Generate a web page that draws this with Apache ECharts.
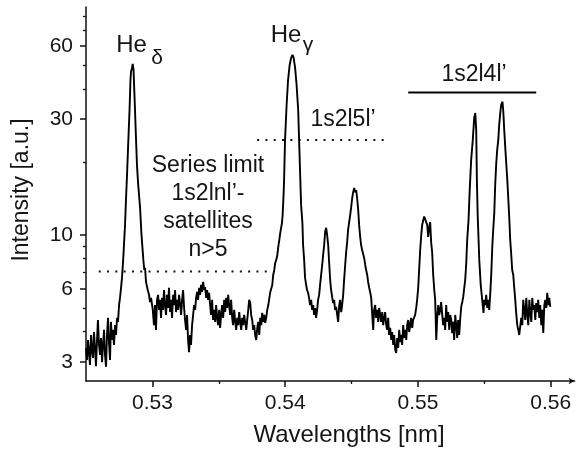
<!DOCTYPE html>
<html><head><meta charset="utf-8">
<script src="https://cdn.jsdelivr.net/npm/echarts@6/dist/echarts.min.js"></script>
<style>html,body{margin:0;padding:0;background:#fff}#c{width:577px;height:451px}</style>
</head><body><div id="c"></div>
<script>
// Wavelength [nm]
const wavelength = [
0.52500,0.52508,0.52515,0.52523,0.52530,0.52538,0.52545,0.52553,0.52560,0.52568,
0.52575,0.52583,0.52590,0.52598,0.52606,0.52613,0.52621,0.52628,0.52636,0.52643,
0.52651,0.52658,0.52666,0.52673,0.52681,0.52688,0.52696,0.52703,0.52711,0.52719,
0.52726,0.52734,0.52741,0.52749,0.52756,0.52764,0.52771,0.52779,0.52786,0.52794,
0.52801,0.52809,0.52819,0.52828,0.52835,0.52839,0.52846,0.52852,0.52858,0.52865,
0.52877,0.52884,0.52892,0.52907,0.52918,0.52932,0.52939,0.52945,0.52952,0.52965,
0.52975,0.52982,0.52990,0.53003,0.53012,0.53020,0.53027,0.53035,0.53043,0.53050,
0.53058,0.53065,0.53073,0.53080,0.53088,0.53095,0.53103,0.53110,0.53118,0.53125,
0.53133,0.53140,0.53148,0.53156,0.53163,0.53171,0.53178,0.53186,0.53193,0.53201,
0.53208,0.53216,0.53224,0.53231,0.53239,0.53246,0.53254,0.53261,0.53269,0.53276,
0.53284,0.53291,0.53299,0.53307,0.53314,0.53322,0.53329,0.53337,0.53344,0.53352,
0.53359,0.53367,0.53374,0.53382,0.53390,0.53397,0.53405,0.53412,0.53420,0.53427,
0.53435,0.53442,0.53450,0.53457,0.53465,0.53473,0.53480,0.53488,0.53495,0.53503,
0.53510,0.53518,0.53525,0.53533,0.53541,0.53548,0.53556,0.53563,0.53571,0.53578,
0.53586,0.53593,0.53601,0.53608,0.53616,0.53623,0.53631,0.53639,0.53646,0.53654,
0.53661,0.53669,0.53676,0.53684,0.53691,0.53699,0.53707,0.53714,0.53722,0.53729,
0.53737,0.53744,0.53752,0.53759,0.53767,0.53774,0.53782,0.53790,0.53797,0.53805,
0.53812,0.53820,0.53827,0.53835,0.53842,0.53850,0.53857,0.53865,0.53873,0.53888,
0.53903,0.53910,0.53918,0.53925,0.53933,0.53941,0.53948,0.53956,0.53963,0.53976,
0.53981,0.53988,0.53992,0.53999,0.54011,0.54022,0.54034,0.54045,0.54055,0.54064,
0.54075,0.54086,0.54098,0.54105,0.54113,0.54120,0.54130,0.54135,0.54143,0.54150,
0.54158,0.54165,0.54173,0.54180,0.54188,0.54196,0.54203,0.54211,0.54218,0.54226,
0.54233,0.54241,0.54248,0.54256,0.54263,0.54271,0.54279,0.54286,0.54294,0.54301,
0.54309,0.54316,0.54324,0.54331,0.54339,0.54346,0.54354,0.54361,0.54369,0.54376,
0.54384,0.54392,0.54399,0.54407,0.54414,0.54422,0.54429,0.54437,0.54444,0.54452,
0.54459,0.54467,0.54474,0.54482,0.54490,0.54497,0.54505,0.54512,0.54520,0.54527,
0.54535,0.54542,0.54550,0.54557,0.54565,0.54572,0.54580,0.54588,0.54595,0.54603,
0.54610,0.54618,0.54625,0.54633,0.54640,0.54648,0.54656,0.54663,0.54670,0.54678,
0.54685,0.54693,0.54701,0.54708,0.54716,0.54723,0.54731,0.54738,0.54746,0.54753,
0.54761,0.54768,0.54776,0.54783,0.54791,0.54799,0.54806,0.54814,0.54821,0.54829,
0.54836,0.54844,0.54851,0.54859,0.54866,0.54874,0.54881,0.54889,0.54896,0.54904,
0.54912,0.54919,0.54927,0.54934,0.54942,0.54949,0.54957,0.54964,0.54972,0.54979,
0.54987,0.54994,0.55002,0.55009,0.55017,0.55025,0.55032,0.55040,0.55047,0.55055,
0.55062,0.55070,0.55077,0.55085,0.55092,0.55100,0.55107,0.55115,0.55123,0.55130,
0.55138,0.55145,0.55153,0.55160,0.55168,0.55175,0.55183,0.55190,0.55198,0.55205,
0.55213,0.55220,0.55228,0.55236,0.55243,0.55251,0.55258,0.55266,0.55273,0.55281,
0.55288,0.55296,0.55303,0.55311,0.55318,0.55326,0.55334,0.55341,0.55349,0.55356,
0.55364,0.55371,0.55381,0.55390,0.55401,0.55413,0.55424,0.55432,0.55439,0.55444,
0.55450,0.55462,0.55473,0.55482,0.55488,0.55494,0.55499,0.55507,0.55514,0.55522,
0.55530,0.55537,0.55545,0.55552,0.55560,0.55567,0.55575,0.55582,0.55590,0.55597,
0.55605,0.55612,0.55620,0.55627,0.55637,0.55643,0.55650,0.55658,0.55665,0.55673,
0.55680,0.55688,0.55695,0.55703,0.55710,0.55718,0.55725,0.55733,0.55740,0.55748,
0.55756,0.55763,0.55771,0.55778,0.55786,0.55793,0.55801,0.55808,0.55816,0.55824,
0.55831,0.55839,0.55846,0.55854,0.55861,0.55869,0.55876,0.55884,0.55891,0.55899,
0.55906,0.55914,0.55921,0.55929,0.55936,0.55944,0.55952,0.55959,0.55967,0.55974,
0.55982,0.55989,0.55997
];
// Intensity [a.u.]
const intensity = [
3.42,3.05,3.69,3.29,2.91,3.87,3.36,3.11,3.98,3.42,
2.88,3.69,4.46,3.52,3.20,3.76,2.99,3.52,4.06,3.20,
2.86,3.87,4.55,3.62,3.05,4.38,3.69,4.06,3.52,4.25,
3.87,4.55,4.38,5.14,5.50,6.05,6.65,7.74,9.09,11.0,
13.9,17.7,24.6,32.8,43.6,47.0,48.8,50.7,47.9,37.8,
24.6,19.4,16.4,13.0,10.0,7.89,7.17,7.31,6.40,5.93,
5.66,5.29,5.50,4.91,4.25,5.14,4.06,5.40,5.66,4.91,
5.40,4.55,5.50,4.91,5.93,5.14,4.68,5.66,5.00,6.05,
4.81,5.40,4.55,5.66,5.14,5.93,4.81,5.40,4.91,5.66,
5.24,4.68,5.40,5.93,5.00,4.46,4.06,4.68,3.69,3.29,
3.87,3.52,4.25,4.68,5.14,4.91,5.50,5.82,5.40,6.05,
5.66,6.22,5.82,6.40,5.93,6.10,5.50,5.93,5.40,5.77,
5.14,4.68,5.40,4.46,4.91,4.38,5.14,4.55,4.25,4.91,
4.14,4.68,5.14,4.55,5.40,4.81,5.50,5.00,5.66,5.14,
4.68,5.40,4.55,4.25,4.91,4.46,4.06,4.55,4.25,4.81,
4.38,4.06,4.55,4.25,4.68,4.38,4.06,4.46,4.91,5.40,
5.24,4.68,4.46,4.06,4.25,3.87,3.69,4.14,4.38,3.87,
4.55,4.25,4.77,4.38,4.68,4.34,4.55,4.91,5.14,5.82,
6.22,6.84,7.17,7.67,7.89,8.27,8.92,9.54,10.2,11.2,
12.1,14.6,16.9,24.6,34.4,43.6,50.2,53.7,55.2,53.7,
48.8,41.6,32.8,24.6,17.7,13.3,11.2,9.09,7.89,6.65,
6.22,5.93,5.77,5.50,5.14,5.40,4.91,5.14,4.68,5.00,
4.55,4.91,5.40,5.66,6.22,6.84,7.52,8.27,9.09,10.3,
10.7,10.0,9.09,7.74,6.52,5.93,5.55,5.24,5.40,4.91,
5.05,4.68,4.38,5.14,5.40,4.81,5.14,5.66,6.52,7.52,
8.43,9.36,10.5,11.3,12.1,13.0,14.2,15.0,15.6,15.0,
15.3,14.2,12.7,11.0,9.81,9.09,8.67,8.51,8.04,7.52,
7.17,6.84,6.40,6.05,5.82,5.50,5.40,4.06,4.91,5.14,
4.55,4.91,4.38,5.00,4.68,4.38,4.81,4.25,4.55,4.81,
4.25,4.06,4.55,3.87,4.14,3.69,3.98,3.52,3.87,3.36,
3.26,3.76,3.42,4.06,3.62,3.87,3.52,4.25,3.76,4.06,
3.69,4.25,4.46,3.98,4.25,4.55,4.14,4.46,4.38,4.68,
5.00,5.40,6.05,7.17,8.67,10.0,11.0,11.5,11.9,11.75,
11.9,11.0,9.81,10.7,11.3,9.27,8.51,6.84,5.93,5.40,
3.69,4.55,5.14,4.68,4.91,5.29,4.68,4.25,4.55,4.06,
5.14,4.38,4.81,4.06,4.68,4.46,3.94,4.38,3.69,4.68,
4.25,3.76,4.46,3.87,4.46,5.05,5.29,5.55,6.05,6.52,
7.67,9.54,11.5,15.3,20.4,24.6,30.4,31.8,27.1,16.9,
12.1,7.89,6.22,5.55,5.14,4.77,5.40,5.14,5.66,5.00,
5.40,4.91,5.77,6.84,8.92,10.5,12.3,16.1,19.8,22.4,
24.6,28.4,31.8,34.4,35.4,32.2,27.1,22.8,19.8,16.9,
14.3,11.75,9.54,8.27,7.17,6.84,6.10,5.40,4.77,4.25,
4.06,3.87,3.94,4.55,4.25,5.40,4.91,4.46,5.50,4.68,
4.25,5.40,4.81,4.38,5.50,4.91,5.14,4.46,5.24,4.81,
5.40,4.55,5.14,4.25,4.91,3.94,5.14,5.40,5.00,5.77,
5.14,5.50,5.05
];
const xTickValues = [0.53, 0.54, 0.55, 0.56];
const xMinorTickValues = [0.535, 0.545, 0.555];
const yTickValues = [3, 6, 10, 30, 60];
const yMinorTickValues = [4, 5, 7, 8, 9, 20, 40, 50, 70, 80];
// annotation reference lines (wavelength range, intensity level)
const seriesLimitX = [0.52596, 0.53909], seriesLimitY = 7.06;
const l5X = [0.53789, 0.54753], l5Y = 24.65;
const l4X = [0.54927, 0.55891], l4Y = 38.6;

const FONT = '"Liberation Sans", Arial, Helvetica, sans-serif';
const TXT = '#151515';
const spectrum = wavelength.map((w, i) => [w, intensity[i]]);
const chart = echarts.init(document.getElementById('c'), null, {renderer: 'canvas'});
const axisCol = '#111';
const xBase = {type: 'value', min: 0.525, max: 0.5618, splitLine: {show: false}};
const yBase = {type: 'log', logBase: 10, min: 2.5, max: 87, splitLine: {show: false}};
chart.setOption({
  animation: false,
  backgroundColor: '#fff',
  grid: {left: 86, right: 2.4, top: 7, bottom: 70},
  xAxis: [
    Object.assign({}, xBase, {
      axisLine: {show: true, onZero: false, lineStyle: {color: axisCol, width: 1.5}, symbol: ['none', 'arrow'], symbolSize: [5, 6]},
      axisTick: {show: true, customValues: xTickValues, length: 6, lineStyle: {color: axisCol, width: 1.5}},
      axisLabel: {customValues: xTickValues, color: TXT, fontSize: 21, fontFamily: FONT, margin: 12, formatter: v => v.toFixed(2)}
    }),
    Object.assign({}, xBase, {
      position: 'bottom',
      axisLine: {show: false, onZero: false},
      axisTick: {show: true, customValues: xMinorTickValues, length: 3, lineStyle: {color: axisCol, width: 1.3}},
      axisLabel: {show: false}
    })
  ],
  yAxis: [
    Object.assign({}, yBase, {
      position: 'left',
      axisLine: {show: true, onZero: false, lineStyle: {color: axisCol, width: 1.5}},
      axisTick: {show: true, customValues: yTickValues, length: 6, lineStyle: {color: axisCol, width: 1.5}},
      axisLabel: {customValues: yTickValues, color: TXT, fontSize: 21, fontFamily: FONT, margin: 13, formatter: v => String(Math.round(v))}
    }),
    Object.assign({}, yBase, {
      position: 'left', offset: 0,
      axisLine: {show: false, onZero: false},
      axisTick: {show: true, customValues: yMinorTickValues, length: 3, lineStyle: {color: axisCol, width: 1.3}},
      axisLabel: {show: false}
    })
  ],
  series: [
    {type: 'line', data: spectrum, showSymbol: false, symbol: 'none', xAxisIndex: 0, yAxisIndex: 0,
     lineStyle: {color: '#000', width: 1.9}, z: 5},
    {type: 'line', data: seriesLimitX.map(x => [x, seriesLimitY]), symbol: 'none',
     lineStyle: {color: '#111', width: 2, type: [2, 6.3]}},
    {type: 'line', data: l5X.map(x => [x, l5Y]), symbol: 'none',
     lineStyle: {color: '#111', width: 2, type: [2, 6.3]}},
    {type: 'line', data: l4X.map(x => [x, l4Y]), symbol: 'none',
     lineStyle: {color: '#000', width: 2}}
  ],
  graphic: [
    {type: 'text', x: 131.5, y: 45, style: {text: 'He', fontSize: 24, fontFamily: FONT, fill: TXT, align: 'center', verticalAlign: 'middle'}},
    {type: 'text', x: 157, y: 58, style: {text: 'δ', fontSize: 21, fontFamily: FONT, fill: TXT, align: 'center', verticalAlign: 'middle'}},
    {type: 'text', x: 286, y: 35, style: {text: 'He', fontSize: 24, fontFamily: FONT, fill: TXT, align: 'center', verticalAlign: 'middle'}},
    {type: 'text', x: 308, y: 45, style: {text: 'γ', fontSize: 21, fontFamily: FONT, fill: TXT, align: 'center', verticalAlign: 'middle'}},
    {type: 'text', x: 343, y: 120, style: {text: '1s2l5l’', fontSize: 23, fontFamily: FONT, fill: TXT, align: 'center', verticalAlign: 'middle'}},
    {type: 'text', x: 474, y: 75, style: {text: '1s2l4l’', fontSize: 23, fontFamily: FONT, fill: TXT, align: 'center', verticalAlign: 'middle'}},
    {type: 'text', x: 208, y: 152, style: {text: 'Series limit\n1s2lnl’-\nsatellites\nn>5', fontSize: 23, lineHeight: 28, fontFamily: FONT, fill: TXT, align: 'center', verticalAlign: 'top'}},
    {type: 'text', x: 349, y: 435, style: {text: 'Wavelengths [nm]', fontSize: 24, fontFamily: FONT, fill: TXT, align: 'center', verticalAlign: 'middle'}},
    {type: 'text', x: 22, y: 190, rotation: Math.PI / 2, style: {text: 'Intensity [a.u.]', fontSize: 23, fontFamily: FONT, fill: TXT, align: 'center', verticalAlign: 'middle'}}
  ]
});
</script>
</body></html>
